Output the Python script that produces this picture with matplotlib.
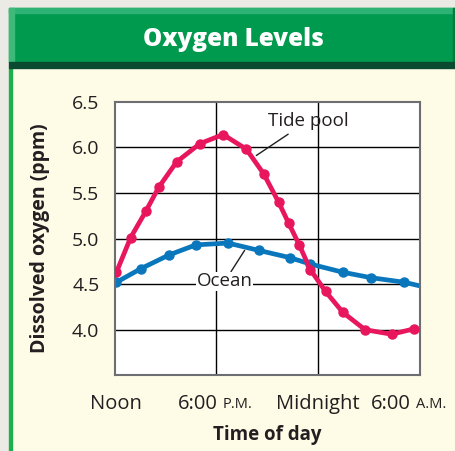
import matplotlib.pyplot as plt
from matplotlib.patches import Rectangle

#%% DATA ~~~~~~~~~~~~~~~~~~~~~~~~~~~~~~~~~~~~~~~~~~~~
# hours after noon
tide_hours = [0.1, 0.94, 1.84, 2.59, 3.65, 5.02, 6.39, 7.76, 8.78, 9.66, 10.25,
              10.88, 11.53, 12.43, 13.45, 14.76, 16.33, 17.66]
tide_oxygen = [4.63, 5.01, 5.30, 5.56, 5.84, 6.04, 6.14, 5.98, 5.71, 5.40, 5.17,
               4.93, 4.66, 4.42, 4.19, 4.00, 3.95, 4.01]

ocean_hours = [0.1, 1.55, 3.21, 4.78, 6.68, 8.49, 10.33, 11.53, 13.45, 15.12, 17.08, 18.0]
ocean_oxygen = [4.52, 4.67, 4.82, 4.93, 4.95, 4.87, 4.79, 4.72, 4.63, 4.57, 4.52, 4.48]

y_ticks = [4.0, 4.5, 5.0, 5.5, 6.0, 6.5]
x_grid = [0, 6, 12, 18]

#%% CONFIGURATION ~~~~~~~~~~~~~~~~~~~~~~~~~~~~~~~~~~~~~~~~~~~~
W, H = 456, 451
plt.rcParams['font.family'] = ['Open Sans', 'DejaVu Sans']

pink = '#E8175D'
blue = '#0A77BD'
cream = '#FEFBE7'
green = '#009A4E'
ink = '#231F20'


def px(x, y):
    return x / W, 1 - y / H


def box(fig, x0, y0, x1, y1, color):
    fig.patches.append(Rectangle(px(x0, y1), (x1 - x0) / W, (y1 - y0) / H,
                                 transform=fig.transFigure, color=color, zorder=-1))


fig = plt.figure(figsize=(W / 100, H / 100), dpi=100)
fig.patch.set_facecolor('#ECEAE4')

# panel + header
box(fig, 9, 8, 456, 451, cream)
box(fig, 9, 68, 12, 451, '#1DAF4E')
box(fig, 9, 8, 456, 62, green)
box(fig, 9, 8, 456, 13, '#2DB373')
box(fig, 9, 8, 14, 62, '#3DBA7A')
box(fig, 453, 8, 456, 62, '#067A3E')
box(fig, 9, 62, 456, 68, '#0A4A30')

fig.text(*px(233, 40), 'Oxygen Levels', color='white', fontsize=17.5,
         fontweight='heavy', ha='center', va='center')

#%% PLOT ~~~~~~~~~~~~~~~~~~~~~~~~~~~~~~~~~~~~~~~~~~~~
left, top = px(114.7, 101.7)
right, bottom = px(420, 375.3)
ax = fig.add_axes([left, bottom, right - left, top - bottom])
ax.set_zorder(2)
ax.set_facecolor('white')
ax.set_xlim(0, 18)
ax.set_ylim(3.5, 6.5)

for xv in x_grid[1:-1]:
    ax.axvline(xv, color='black', lw=1, zorder=1)
for yv in y_ticks[:-1]:
    ax.axhline(yv, color='black', lw=1, zorder=1)

ax.plot(tide_hours, tide_oxygen, color=pink, lw=3.4, marker='o', ms=6.5, zorder=3)
ax.plot(ocean_hours, ocean_oxygen, color=blue, lw=3.4, marker='o', ms=6.5,
        markevery=list(range(len(ocean_hours) - 1)), zorder=2)

ax.annotate('Tide pool', xy=(8.35, 5.91), xytext=(11.4, 6.29), fontsize=13.5,
            ha='center', va='center', color=ink,
            arrowprops=dict(arrowstyle='-', color=ink, lw=1, shrinkA=2, shrinkB=0))
ax.annotate('Ocean', xy=(7.66, 4.87), xytext=(6.49, 4.53), fontsize=13.5,
            ha='center', va='center', zorder=4, color=ink,
            bbox=dict(fc='white', ec='none', pad=0.5),
            arrowprops=dict(arrowstyle='-', color=ink, lw=1, shrinkA=0, shrinkB=0))

ax.set_xticks([])
ax.set_yticks(y_ticks)
ax.set_yticklabels([f'{v:.1f}' for v in y_ticks], fontsize=14, color=ink)
ax.tick_params(axis='y', length=0, pad=11)
for s in ax.spines.values():
    s.set_color('#6D6E71')
    s.set_linewidth(1.5)

# time labels under the axis
lab_y = -0.105
tr = ax.get_xaxis_transform()
ax.text(0.1, lab_y, 'Noon', transform=tr, fontsize=14.5, ha='center', va='center', color=ink)
ax.text(12, lab_y, 'Midnight', transform=tr, fontsize=14.5, ha='center', va='center', color=ink)
t6 = ax.text(6.05, lab_y, '6:00', transform=tr, fontsize=14.5, ha='right', va='center', color=ink)
ax.annotate('P.M.', xy=(1, 0.08), xycoords=t6, xytext=(4, 0), textcoords='offset points',
            fontsize=10.5, ha='left', va='bottom', color=ink)
t18 = ax.text(17.45, lab_y, '6:00', transform=tr, fontsize=14.5, ha='right', va='center', color=ink)
ax.annotate('A.M.', xy=(1, 0.08), xycoords=t18, xytext=(4, 0), textcoords='offset points',
            fontsize=10.5, ha='left', va='bottom', color=ink)

fig.text(*px(267, 435), 'Time of day', fontsize=13.5, fontweight='bold',
         ha='center', va='center', color=ink)
fig.text(*px(40, 238), 'Dissolved oxygen (ppm)', fontsize=14, fontweight='bold',
         rotation=90, ha='center', va='center', color=ink)

fig.savefig('out.png', dpi=100, facecolor=fig.get_facecolor())
